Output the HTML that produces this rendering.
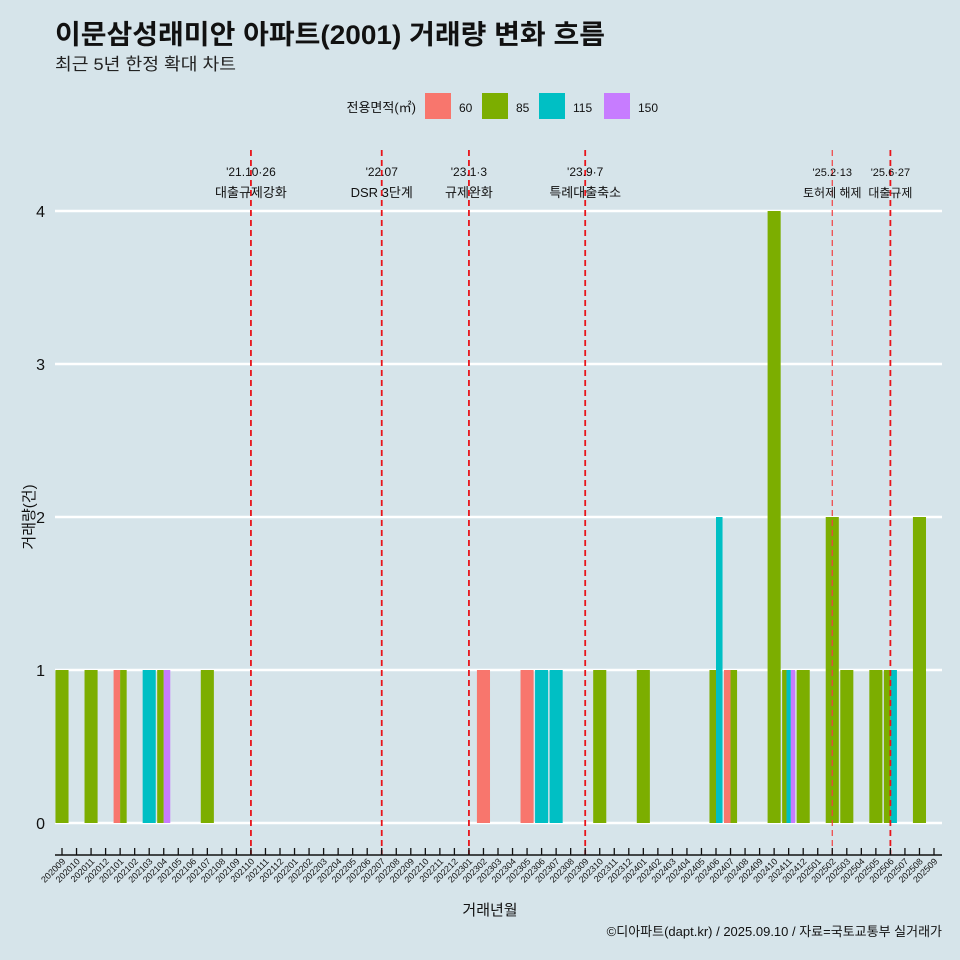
<!DOCTYPE html>
<html><head><meta charset="utf-8"><style>
body{margin:0;background:#d6e4ea;}
svg{display:block;font-family:"Liberation Sans","Noto Sans CJK KR",sans-serif;}
</style></head><body>
<svg id="c" width="960" height="960">
<rect width="960" height="960" fill="#d6e4ea"/>
<text x="55" y="44" font-size="27" font-weight="bold" fill="#111" textLength="550" lengthAdjust="spacingAndGlyphs">이문삼성래미안 아파트(2001) 거래량 변화 흐름</text>
<text x="55" y="70" font-size="17" fill="#222" textLength="181" lengthAdjust="spacingAndGlyphs">최근 5년 한정 확대 차트</text>
<g id="legend"></g>
<g id="grid"></g><g id="bars"></g><g id="events"></g><g id="axes"></g>
<text x="490" y="915" font-size="15" text-anchor="middle" fill="#111">거래년월</text>
<text transform="translate(34,517) rotate(-90)" font-size="15" text-anchor="middle" fill="#111">거래량(건)</text>
<text x="942" y="936" font-size="13" text-anchor="end" fill="#111">©디아파트(dapt.kr) / 2025.09.10 / 자료=국토교통부 실거래가</text>
</svg>
<script>
const areas=['60','85','115','150'];
const colors=['#f8766d','#7cae00','#00bfc4','#c77cff'];
const yTicks=[0,1,2,3,4];
const sales=[
['202009','85',1],['202011','85',1],['202101','60',1],['202101','85',1],['202103','115',1],
['202104','85',1],['202104','150',1],['202107','85',1],['202302','60',1],['202305','60',1],
['202306','115',1],['202307','115',1],['202310','85',1],['202401','85',1],['202406','85',1],
['202406','115',2],['202407','60',1],['202407','85',1],['202410','85',4],['202411','85',1],
['202411','115',1],['202411','150',1],['202412','85',1],['202502','85',2],['202503','85',1],
['202505','85',1],['202506','85',1],['202506','115',1],['202508','85',2]];
const eventMonths=['202110','202207','202301','202309','202502','202506'];
const eventDates=["'21.10·26","'22.07","'23.1·3","'23.9·7","'25.2·13","'25.6·27"];
const eventLabels=['대출규제강화','DSR 3단계','규제완화','특례대출축소','토허제 해제','대출규제'];
const months=[];for(let y=2020,m=9;y*100+m<=202509;){months.push(String(y*100+m));m++;if(m>12){m=1;y++;}}
const NS='http://www.w3.org/2000/svg';
function mk(p,t,a){const e=document.createElementNS(NS,t);for(const k in a)e.setAttribute(k,a[k]);p.appendChild(e);return e;}
const x0=62,x1=934,step=(x1-x0)/(months.length-1);
const X=m=>x0+months.indexOf(m)*step;
const Y=v=>823-v*153;
const G=document.getElementById('grid'),B=document.getElementById('bars'),E=document.getElementById('events'),A=document.getElementById('axes'),L=document.getElementById('legend');
yTicks.forEach(t=>{const l=mk(G,'line',{x1:55,x2:942,y1:Y(t),y2:Y(t),stroke:'#fff','stroke-width':2.5});


const tx=mk(A,'text',{x:45,y:Y(t)+6,'font-size':16,'text-anchor':'end',fill:'#111'});tx.textContent=t;

});
const bw=step*0.9;
months.forEach(m=>{const grp=sales.filter(s=>s[0]===m).sort((a,b)=>areas.indexOf(a[1])-areas.indexOf(b[1]));
const w=bw/Math.max(grp.length,1);grp.forEach((s,i)=>{const r=mk(B,'rect',{x:X(m)-bw/2+i*w,y:Y(s[2]),width:w,height:Y(0)-Y(s[2]),fill:colors[areas.indexOf(s[1])]});

});});
eventMonths.forEach((m,i)=>{const x=X(m);const faint=i===4;
const l=mk(E,'line',{x1:x,x2:x,y1:150,y2:855,stroke:faint?'#f04040':'#e8141a','stroke-width':faint?1.2:1.8,'stroke-dasharray':'6,4'});


const fs=faint||i===5?12:13;
const t1=mk(E,'text',{x:x,y:176,'font-size':fs-1,'text-anchor':'middle',fill:'#111'});t1.textContent=eventDates[i];


const t2=mk(E,'text',{x:x,y:197,'font-size':fs,'text-anchor':'middle',fill:'#111'});t2.textContent=eventLabels[i];

});
mk(A,'line',{x1:55,x2:942,y1:855,y2:855,stroke:'#111','stroke-width':1.5});
months.forEach(m=>{const x=X(m);mk(A,'line',{x1:x,x2:x,y1:848,y2:855,stroke:'#111','stroke-width':1.3});
const t=mk(A,'text',{transform:`translate(${x+4},862) rotate(-45)`,'font-size':9,'text-anchor':'end',fill:'#111'});t.textContent=m;

});
const lt=mk(L,'text',{x:416,y:112,'font-size':13,'text-anchor':'end',fill:'#111'});lt.textContent='전용면적(㎡)';


const lx=[425,482,539,604];
areas.forEach((a,i)=>{const g=mk(L,'g',{});


mk(g,'rect',{x:lx[i],y:93,width:26,height:26,fill:colors[i]});
const t=mk(g,'text',{x:lx[i]+34,y:112,'font-size':12,fill:'#111'});t.textContent=a;});
</script>
</body></html>
